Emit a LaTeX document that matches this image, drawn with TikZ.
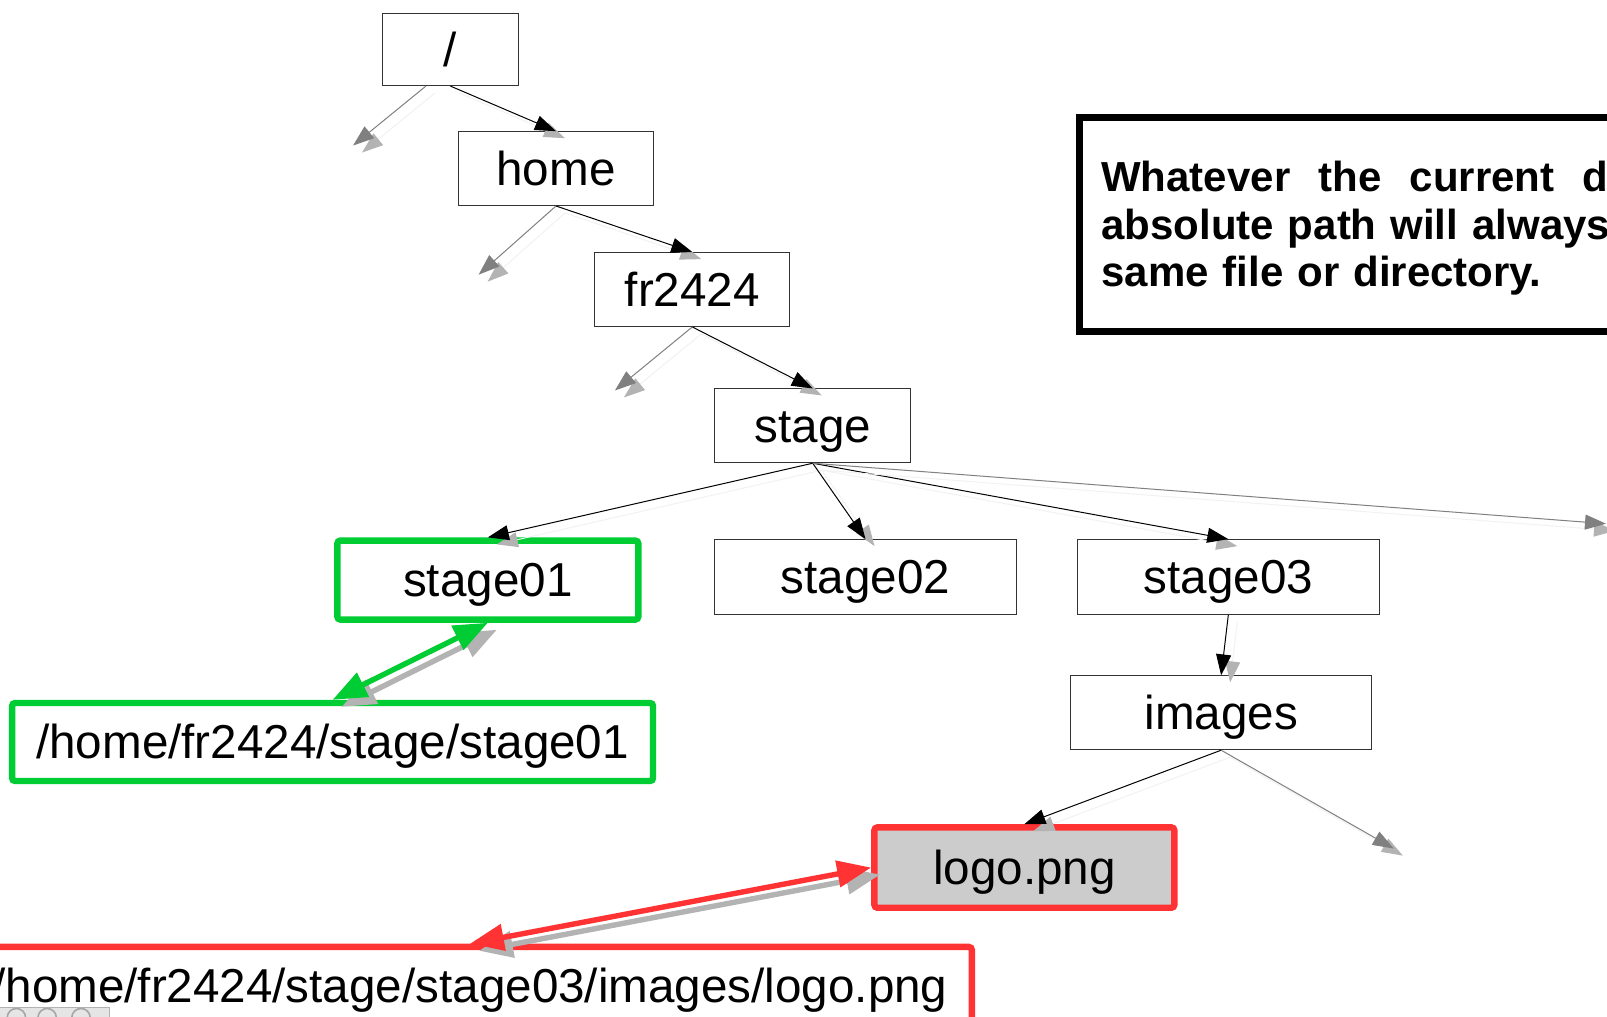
\documentclass[tikz,border=0pt]{standalone}
\usepackage{fontspec}
\setmainfont{Liberation Sans}
\usepackage{xcolor}
\usetikzlibrary{arrows.meta}

\definecolor{pathgreen}{RGB}{0,204,51}
\definecolor{pathred}{RGB}{255,51,51}
\definecolor{shadowgray}{RGB}{179,179,179}
\definecolor{stubgray}{RGB}{128,128,128}
\definecolor{filegray}{RGB}{204,204,204}

\tikzset{
  dirbox/.style={draw=black!80, line width=0.5pt, fill=white, inner sep=0pt,
    text height=21.5pt, text depth=5pt, font=\fontsize{23.8}{28}\selectfont},
  greenbox/.style={dirbox, draw=pathgreen, line width=3.2pt, rounded corners=1.5pt},
  redbox/.style={dirbox, draw=pathred, line width=3.2pt, rounded corners=1.5pt},
  notebox/.style={draw=black, line width=3.6pt, inner xsep=10.8pt, inner ysep=0pt,
    text width=440pt, text height=19.3pt, text depth=52pt, align=left,
    font=\fontsize{21}{23.8}\selectfont\bfseries},
  branch/.style={draw=black, line width=0.5pt, -{Triangle[length=10.5pt,width=7.5pt]}},
  branchshadow/.style={draw=black!5, line width=0.5pt,
    -{Triangle[length=10.5pt,width=7.5pt,color=shadowgray]},
    transform canvas={shift={(4.5pt,-3.5pt)}}},
  stub/.style={branch, draw=stubgray},
  pathlink/.style={line width=2.7pt,
    {Triangle[length=17pt,width=13pt]}-{Triangle[length=17pt,width=13pt]}},
  linkshadow/.style={pathlink, draw=shadowgray, transform canvas={shift={(4.5pt,-3.5pt)}}}
}

\begin{document}
\begin{tikzpicture}[x=0.5125pt, y=-0.5125pt]
  \useasboundingbox (0,0) rectangle (1568,991.5);
  \fill[white] (0,0) rectangle (1568,991.5);

  % directory tree
  \node[dirbox, minimum width=67.6pt, minimum height=35.9pt] (root) at (439.5,48.5) {/};
  \node[dirbox, minimum width=97.4pt, minimum height=36.9pt] (home) at (542.5,164.5) {home};
  \node[dirbox, minimum width=97.4pt, minimum height=36.9pt] (fr2424) at (675.5,282.5) {fr2424};
  \node[dirbox, minimum width=97.9pt, minimum height=36.9pt] (stage) at (793,415.5) {stage};
  \node[greenbox, minimum width=150.5pt, minimum height=39.5pt] (stage01) at (476,566) {stage01};
  \node[dirbox, minimum width=150.7pt, minimum height=37.4pt] (stage02) at (844.5,563) {stage02};
  \node[dirbox, minimum width=150.7pt, minimum height=37.4pt] (stage03) at (1198.5,563) {stage03};
  \node[dirbox, minimum width=150.7pt, minimum height=36.9pt] (images) at (1191.5,695.5) {images};
  \node[redbox, fill=filegray, minimum width=150pt, minimum height=40.2pt] (logo) at (999.5,846.5) {logo.png};

  % absolute paths
  \node[greenbox, minimum width=320.5pt, minimum height=39pt] (path01) at (324.5,724) {/home/fr2424/stage/stage01};
  \node[redbox, minimum width=502pt, minimum height=39pt] (pathlogo) at (458.5,962) {/home/fr2424/stage/stage03/images/logo.png};

  % note
  \node[notebox, anchor=north west, minimum height=107.1pt] (note) at (1050,111)
    {{\spaceskip=14.1pt\relax Whatever the current directory is, an}\\
     absolute path will always point to the\\
     same file or directory.};

  % branches
  \foreach \from/\to in {root.south/home.north, home.south/fr2424.north,
      fr2424.south/stage.north, stage.south/stage01.north, stage.south/stage02.north,
      stage.south/stage03.north, stage03.south/images.north, images.south/logo.north}
  {
    \draw[branchshadow] (\from) -- (\to);
    \draw[branch] (\from) -- (\to);
  }

  % other entries, not shown
  \coordinate (rootstub) at (344.5,142);
  \coordinate (homestub) at (467,268);
  \coordinate (fr2424stub) at (600,381);
  \coordinate (stagestub) at (1567,511);
  \coordinate (imagesstub) at (1360,828);
  \foreach \from/\to in {root.236/rootstub, home.south/homestub, fr2424.south/fr2424stub,
      stage.south/stagestub, images.south/imagesstub}
  {
    \draw[branchshadow] (\from) -- (\to);
    \draw[stub] (\from) -- (\to);
  }

  % links to the paths
  \draw[linkshadow] (path01.north) -- (stage01.south);
  \draw[pathlink, draw=pathgreen] (path01.north) -- (stage01.south);
  \draw[linkshadow] (pathlogo.north) -- (logo.west);
  \draw[pathlink, draw=pathred] (pathlogo.north) -- (logo.west);

  % corner of the viewer bar
  \fill[black!10] (0,982.5) rectangle (107,998);
  \draw[black!30] (0,982.5) -- (107,982.5) -- (107,998);
  \foreach \cx in {16,46,79}
    \draw[black!35, line width=0.8pt] (\cx,993) circle (9);
\end{tikzpicture}
\end{document}
